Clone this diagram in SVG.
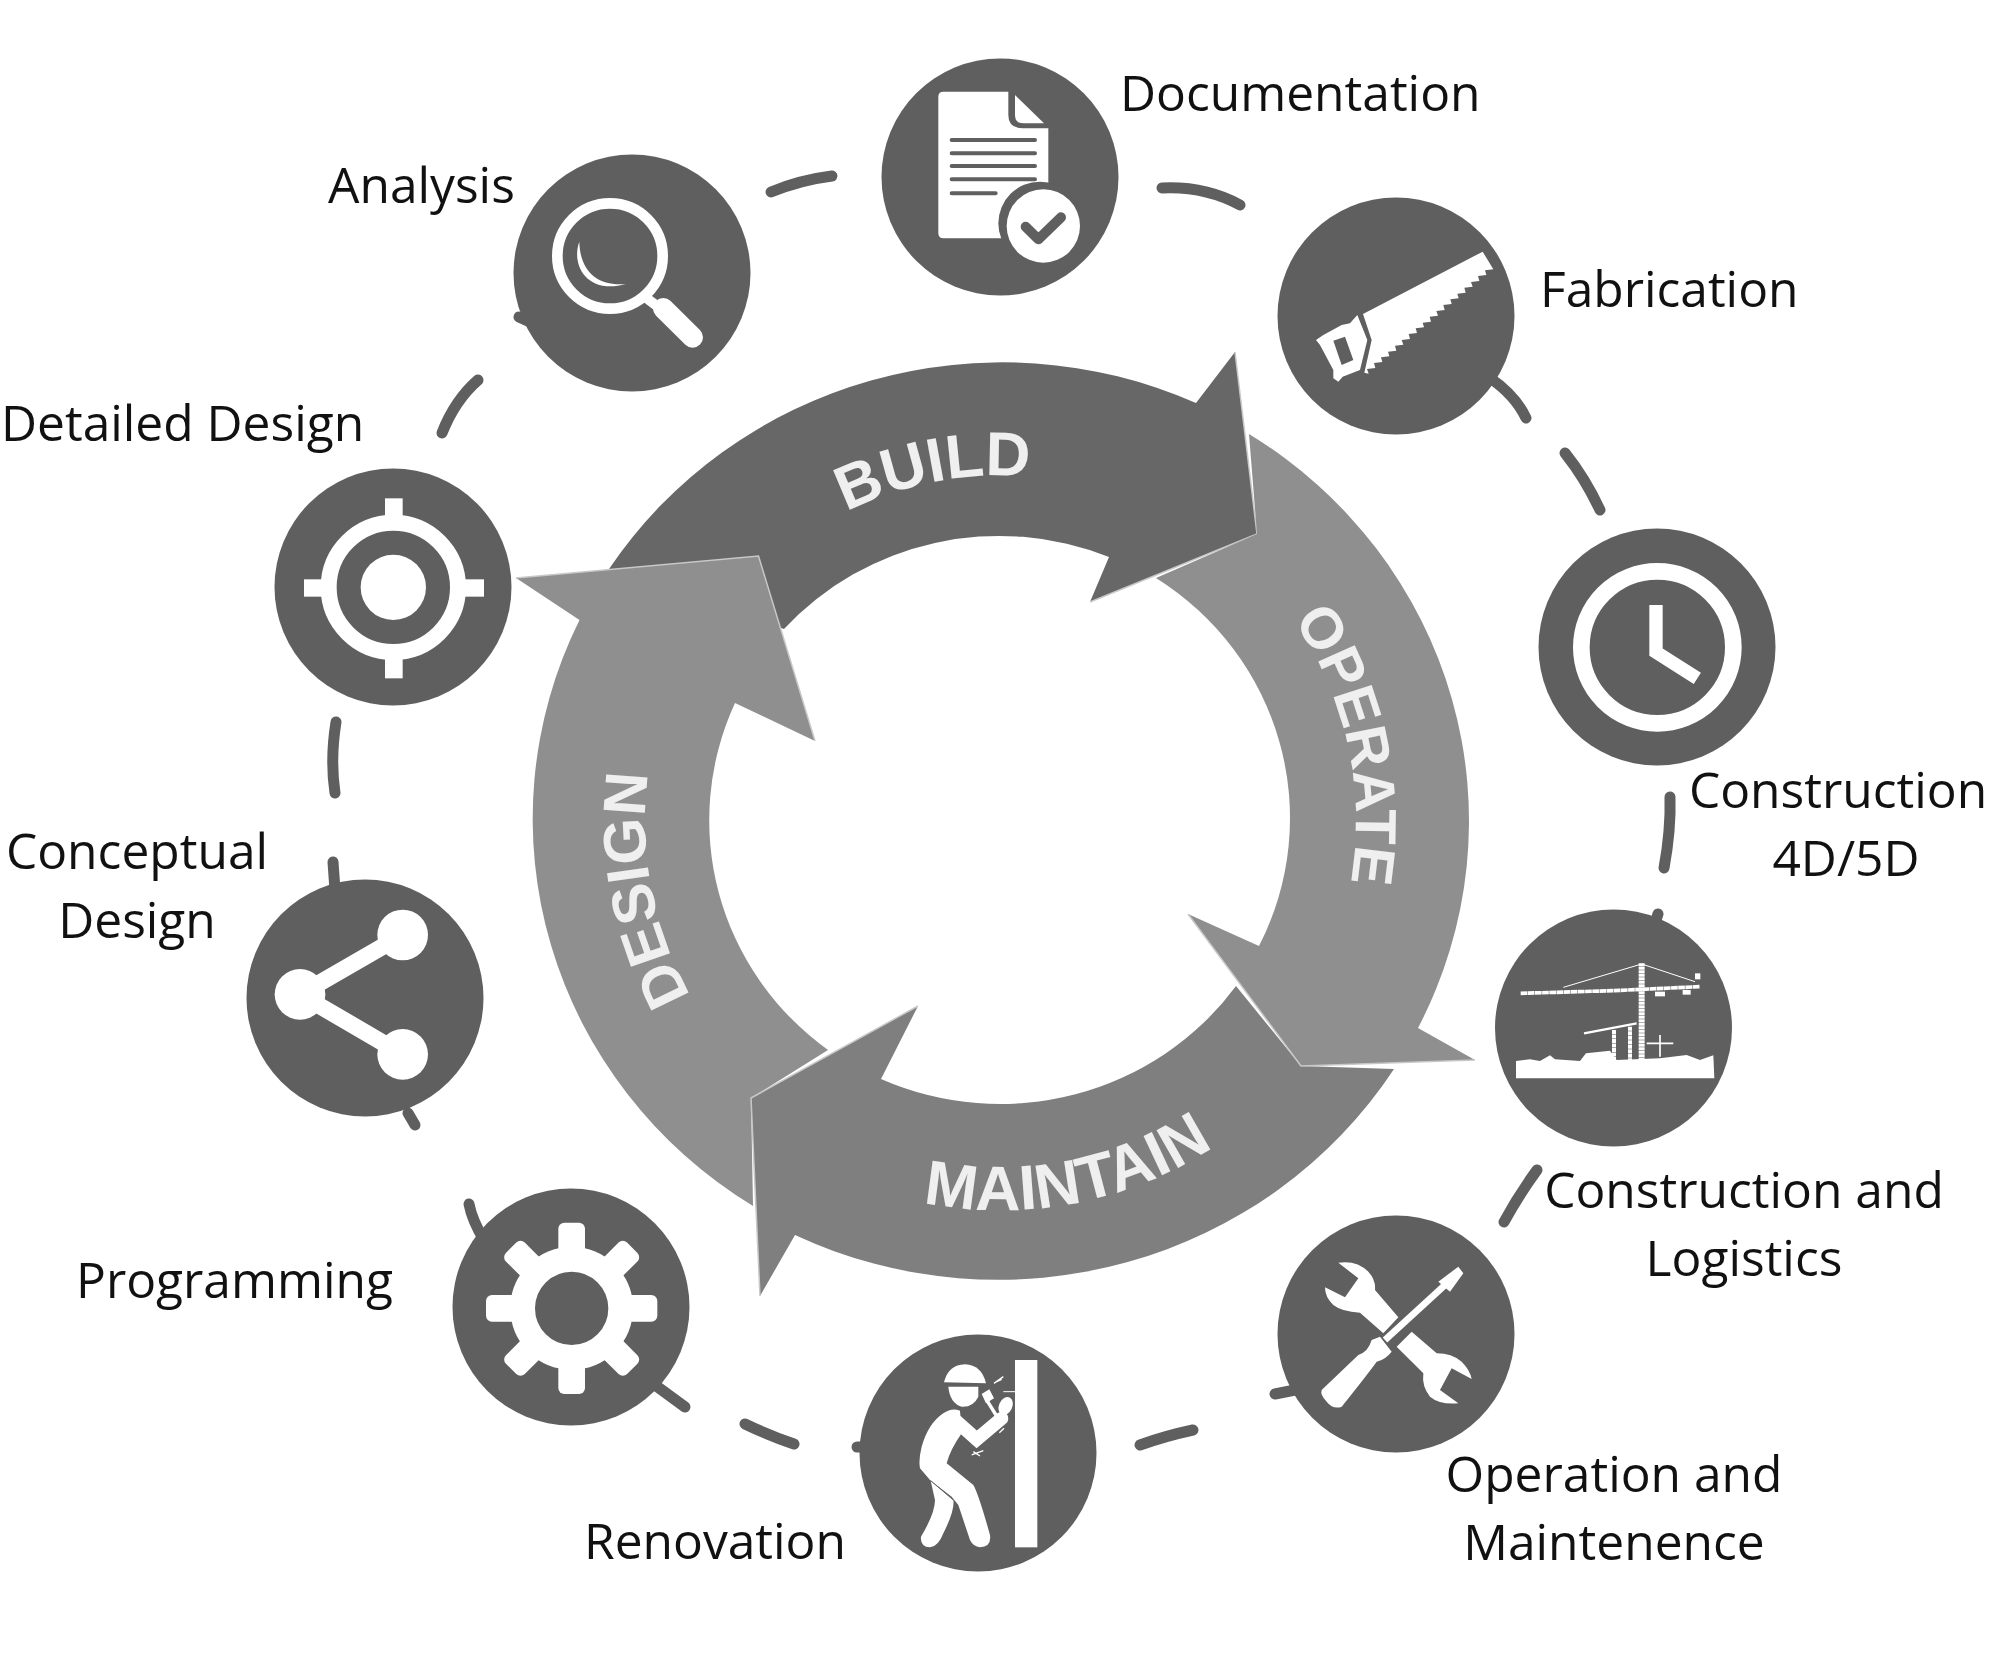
<svg xmlns="http://www.w3.org/2000/svg" xmlns:xlink="http://www.w3.org/1999/xlink" width="2002" height="1679" viewBox="0 0 2002 1679">
<style>
.bg{fill:#fff}
.disc{fill:#5f5f5f}
.w{fill:#fff}
.d{fill:#5f5f5f}
.ws{fill:none;stroke:#fff}
.ds{fill:none;stroke:#5f5f5f}
.lbl{font-family:"Open Sans","Noto Sans",sans-serif;font-size:49.7px;fill:#111}
.mid{text-anchor:middle}
.ring{font-family:"Liberation Sans",Arial,sans-serif;font-weight:bold;font-size:62px;fill:#efefef;text-anchor:middle}
.edge{fill:none;stroke:#c8c8c8;stroke-width:1.5}
#connectors path{fill:none;stroke:#5f5f5f;stroke-width:11;stroke-linecap:round}
</style>
<defs>
<path id="arcBuild" d="M733,603 A345 345 0 0 1 1169,519" fill="none"/>
<path id="arcOperate" d="M1166,507 A355 355 0 0 1 1282,1038" fill="none"/>
<path id="arcDesign" d="M776,1097 A356 356 0 0 1 690,648" fill="none"/>
<path id="arcMaintain" d="M841,1176 A389 389 0 0 0 1280,1092" fill="none"/>
<rect id="tooth" x="355" y="158" width="80" height="110" rx="18" class="w"/>
</defs>
<rect class="bg" width="2002" height="1679"/>
<g id="cycle">
<g id="build"><path d="M609,569 A470 457 0 0 1 1196,403 L1235,352 L1257,534 L1090,602 L1109,557 A291 285 0 0 0 784,629 Z" fill="#676767"/>
<path class="edge" d="M1090,602 L1257,534 L1235,352"/>
<text class="ring"><textPath xlink:href="#arcBuild" href="#arcBuild" startOffset="50%">BUILD</textPath></text></g>
<g id="design"><path d="M753,1206 A470 457 0 0 1 579.5,620 L516,578 L758.5,556 L815,741 L735,703 A291 285 0 0 0 828,1050 L751,1098 Z" fill="#8f8f8f"/>
<path class="edge" d="M516,578 L758.5,556 L815,741"/>
<text class="ring" style="font-size:60px"><textPath xlink:href="#arcDesign" href="#arcDesign" startOffset="50%">DESIGN</textPath></text></g>
<g id="maintain"><path d="M1394,1069 A470 457 0 0 1 795,1235 L760,1296 L751,1098 L918,1006 L881,1079 A291 285 0 0 0 1236,986 L1301,1066 Z" fill="#7f7f7f"/>
<path class="edge" d="M918,1006 L751,1098 L760,1296"/>
<text class="ring" style="font-size:63px"><textPath xlink:href="#arcMaintain" href="#arcMaintain" startOffset="50%">MAINTAIN</textPath></text></g>
<g id="operate"><path d="M1249,434 A470 457 0 0 1 1418,1028 L1475,1060 L1301,1066 L1188,914 L1259,946 A291 285 0 0 0 1156,578 L1257,534 Z" fill="#8f8f8f"/>
<path class="edge" d="M1188,914 L1301,1066 L1475,1060"/>
<text class="ring" style="font-size:58px"><textPath xlink:href="#arcOperate" href="#arcOperate" startOffset="50%">OPERATE</textPath></text></g>
</g>
<g id="connectors">
<path d="M771,192 Q800,180 832,176"/>
<path d="M1162,188 Q1205,186 1240,205"/>
<path d="M1490,378 Q1515,395 1526,418"/>
<path d="M1565,453 Q1585,478 1600,510"/>
<path d="M1670,797 Q1671,830 1664,868"/>
<path d="M1658,914 L1654,926"/>
<path d="M1537,1170 Q1518,1196 1504,1222"/>
<path d="M1275,1394 L1295,1390"/>
<path d="M1193,1430 Q1165,1436 1140,1445"/>
<path d="M857,1447 L870,1447"/>
<path d="M794,1444 Q770,1436 745,1424"/>
<path d="M685,1407 L655,1385"/>
<path d="M469,1204 Q472,1220 484,1240"/>
<path d="M408,1113 L415,1125"/>
<path d="M333,862 L335,890"/>
<path d="M336,722 Q330,760 335,793"/>
<path d="M442,433 Q455,400 478,380"/>
<path d="M519,317 L530,322"/>
</g>
<g id="node-documentation">
<circle class="disc" cx="1000" cy="177" r="118.5"/>
<g transform="translate(860 40) scale(.33333)">
<path class="w" d="M250,155 H445 V225 Q445,265 490,265 H565 V595 H250 Q235,595 235,580 V170 Q235,155 250,155Z"/>
<path class="w" d="M465,165 L552,250 H490 Q465,250 465,225Z"/>
<path class="ds" stroke-width="12" stroke-linecap="round" d="M275,300 H525 M275,340 H525 M275,378 H525 M275,418 H525 M275,460 H407"/>
<circle class="d" cx="540" cy="550" r="125"/>
<circle class="w" cx="550" cy="558" r="110"/>
<path class="ds" stroke-width="30" stroke-linecap="round" stroke-linejoin="round" d="M497,560 L535,598 L603,532"/>
</g>
<text class="lbl" x="1120" y="111">Documentation</text>
</g>
<g id="node-fabrication">
<circle class="disc" cx="1396" cy="316" r="118.5"/>
<g transform="translate(1270 180) scale(.33333)">
<polygon class="w" points="638,215 670,268 645,271 649,285 624,288 628,303 603,306 608,320 583,323 587,338 562,341 566,355 541,358 545,372 520,375 524,390 499,393 504,407 479,410 483,425 458,428 462,442 437,445 441,459 416,462 420,477 395,480 400,494 375,497 379,512 354,515 358,529 333,532 337,546 312,549 316,564 291,567 296,581 283,578 305,480 279,402"/>
<path class="w" fill-rule="evenodd" d="M262,405 L292,480 L270,570 L218,590 L205,605 L190,595 L190,570 L150,495 L138,480 L160,465 L215,435 L240,430Z M190,482 L225,470 L250,540 L215,555Z"/>
</g>
<text class="lbl" x="1540" y="307">Fabrication</text>
</g>
<g id="node-clock">
<circle class="disc" cx="1657" cy="647" r="118.5"/>
<g transform="translate(1520 510) scale(.33333)">
<circle class="ws" cx="412" cy="412" r="228" stroke-width="50"/>
<path class="ws" stroke-width="40" d="M408,285 V426 L532,505"/>
</g>
<text class="lbl mid" x="1838" y="808">Construction</text>
<text class="lbl mid" x="1846" y="876">4D/5D</text>
</g>
<g id="node-crane">
<circle class="disc" cx="1613.5" cy="1028" r="118.5"/>
<g transform="translate(1480 880) scale(.33333)">
<polygon class="w" points="108,543 150,538 180,543 210,526 225,538 300,543 318,520 390,512 410,540 540,535 620,525 660,540 700,526 703,595 108,595"/>
<path class="ws" stroke-width="18" stroke-dasharray="9 1.5" d="M485,250 V540"/>
<path class="ws" stroke-width="11" stroke-dasharray="20 1.5" d="M122,340 L400,332 L660,320"/>
<path class="ws" stroke-width="3" d="M250,322 L485,252 L645,305"/>
<path class="ws" stroke-width="7" d="M312,460 L470,430"/>
<path class="ws" stroke-width="12" stroke-dasharray="12 1.5" d="M402,450 V540 M450,440 V540"/>
<path class="ws" stroke-width="5" d="M540,465 V530 M500,490 H580"/>
<rect class="w" x="645" y="280" width="16" height="18"/>
<rect class="w" x="525" y="335" width="30" height="14"/>
<rect class="w" x="608" y="330" width="24" height="14"/>
</g>
<text class="lbl mid" x="1744" y="1208">Construction and</text>
<text class="lbl mid" x="1744" y="1276">Logistics</text>
</g>
<g id="node-tools">
<circle class="disc" cx="1396" cy="1334" r="118.5"/>
<g transform="translate(1270 1210) scale(.33333)">
<path class="w" d="M205,158 Q260,150 295,185 Q318,210 315,240 L385,322 L340,370 L270,308 Q215,305 190,285 Q165,262 165,232 L225,262 L265,205Z"/>
<path class="w" d="M380,410 L425,365 L500,430 Q545,430 575,455 Q600,480 605,507 L545,475 L510,540 L565,580 Q510,585 480,560 Q455,530 460,490Z"/>
<path class="ds" stroke-width="36" d="M345,390 L525,225"/>
<path class="ws" stroke-width="20" d="M345,390 L525,225"/>
<polygon class="w" points="505,215 565,170 580,190 540,245"/>
<path class="w" d="M155,540 L265,435 Q295,425 305,390 L330,380 L365,425 Q345,450 320,455 Q295,490 215,590 Q190,600 170,575 Q150,555 155,540Z"/>
</g>
<text class="lbl mid" x="1614" y="1492">Operation and</text>
<text class="lbl mid" x="1614" y="1560">Maintenence</text>
</g>
<g id="node-renovation">
<circle class="disc" cx="978" cy="1453" r="118.5"/>
<g transform="translate(840 1320) scale(.33333)">
<rect class="w" x="525" y="120" width="67" height="562"/>
<path class="w" d="M312,187 Q325,135 375,133 Q425,135 438,190Z"/>
<path class="w" d="M325,200 H415 V230 Q400,262 365,260 Q330,250 325,200Z"/>
<path class="w" d="M310,280 Q335,262 360,272 L365,340 Q330,390 320,430 L400,495 Q415,520 450,645 Q455,680 420,682 Q400,680 390,660 L355,555 L335,530 L270,480 L240,445 Q235,420 245,380 Q265,310 310,280Z"/>
<path class="w" d="M272,482 L340,540 Q345,570 310,640 Q295,680 270,682 Q240,680 243,650 Q285,580 285,540Z"/>
<path class="ds" stroke-width="3" d="M272,482 L340,540"/>
<path class="ws" stroke-width="40" stroke-linejoin="miter" stroke-linecap="round" d="M345,300 L410,358 L485,295"/>
<ellipse class="w" cx="497" cy="258" rx="20" ry="28" transform="rotate(25 497 258)"/>
<path class="ws" stroke-width="10" d="M440,240 L468,285"/>
<polygon class="w" points="425,222 448,208 462,235 438,250"/>
<path class="ws" stroke-width="3" d="M490,215 H525"/>
<path class="ws" stroke-width="4" d="M462,190 L490,170 M470,185 L485,178 M395,405 L430,392 M400,395 L420,408 M478,338 L492,325"/>
</g>
<text class="lbl" x="584" y="1559">Renovation</text>
</g>
<g id="node-programming">
<circle class="disc" cx="571" cy="1307" r="118.5"/>
<g transform="translate(440 1170) scale(.33333)">
<use href="#tooth" xlink:href="#tooth"/>
<use href="#tooth" xlink:href="#tooth" transform="rotate(45 395 415)"/>
<use href="#tooth" xlink:href="#tooth" transform="rotate(90 395 415)"/>
<use href="#tooth" xlink:href="#tooth" transform="rotate(135 395 415)"/>
<use href="#tooth" xlink:href="#tooth" transform="rotate(180 395 415)"/>
<use href="#tooth" xlink:href="#tooth" transform="rotate(225 395 415)"/>
<use href="#tooth" xlink:href="#tooth" transform="rotate(270 395 415)"/>
<use href="#tooth" xlink:href="#tooth" transform="rotate(315 395 415)"/>
<circle class="ws" cx="395" cy="415" r="147" stroke-width="74"/>
</g>
<text class="lbl" x="76" y="1298">Programming</text>
</g>
<g id="node-conceptual">
<circle class="disc" cx="365" cy="998" r="118.5"/>
<g transform="translate(230 860) scale(.33333)">
<circle class="w" cx="518" cy="225" r="76"/>
<circle class="w" cx="210" cy="403" r="76"/>
<circle class="w" cx="518" cy="583" r="76"/>
<path class="ws" stroke-width="50" d="M518,225 L210,403 L518,583"/>
</g>
<text class="lbl mid" x="137" y="869">Conceptual</text>
<text class="lbl mid" x="137" y="938">Design</text>
</g>
<g id="node-detailed">
<circle class="disc" cx="393" cy="587" r="118.5"/>
<g transform="translate(260 450) scale(.33333)">
<circle class="ws" cx="400" cy="412" r="194" stroke-width="48"/>
<circle class="w" cx="400" cy="412" r="98"/>
<rect class="w" x="375" y="145" width="53" height="60"/>
<rect class="w" x="375" y="625" width="53" height="60"/>
<rect class="w" x="132" y="388" width="60" height="52"/>
<rect class="w" x="612" y="388" width="60" height="52"/>
</g>
<text class="lbl" x="1" y="441">Detailed Design</text>
</g>
<g id="node-analysis">
<circle class="disc" cx="632" cy="273" r="118.5"/>
<g transform="translate(500 140) scale(.33333)">
<circle class="ws" cx="330" cy="348" r="158" stroke-width="32"/>
<path class="w" d="M238,305 C212,375 262,465 378,432 C300,440 240,400 238,305Z"/>
<path class="ws" stroke-width="30" d="M440,475 L480,505"/>
<path class="ws" stroke-width="62" stroke-linecap="round" d="M490,505 L578,592"/>
</g>
<text class="lbl" x="328" y="203">Analysis</text>
</g>
</svg>
